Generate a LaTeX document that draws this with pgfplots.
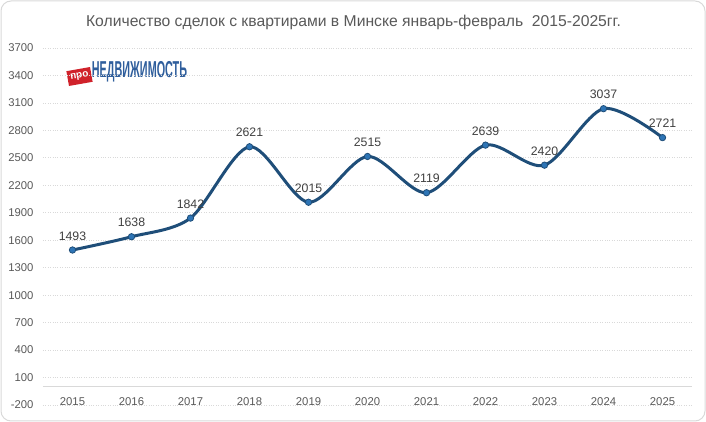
\documentclass[border=0pt]{standalone}
\usepackage{pgfplots}
\pgfplotsset{compat=1.18}
\usepackage{fontspec}
\setmainfont{Liberation Sans}
\definecolor{lineblue}{HTML}{1F4E79}
\definecolor{markblue}{HTML}{2E75B6}
\definecolor{gridgray}{HTML}{D9D9D9}
\definecolor{txtgray}{HTML}{595959}
\definecolor{lblgray}{HTML}{404040}
\definecolor{logoblue}{HTML}{2F5E9C}
\definecolor{logored}{HTML}{D0222B}
\pgfplotstableread{
year val lbl
2015 1493 1493
2016 1638 1638
2017 1842 1842
2018 2621 2621
2019 2015 2015
2020 2515 2515
2021 2119 2119
2022 2639 2639
2023 2420 2420
2024 3037 3037
2025 2721 2721
}\deals
\begin{document}
\begin{tikzpicture}[x=1pt,y=1pt]
\path[use as bounding box] (0,0) rectangle (706,422);
\draw[gridgray, line width=1pt, rounded corners=10pt] (1,1) rectangle (705,421);
\node[font=\fontsize{15.7}{18}\selectfont, text=txtgray] at (353.5,400) {Количество сделок с квартирами в Минске январь-февраль\ \ 2015-2025гг.};
% logo
\node[fill=logored, text=white, rotate=10, font=\bfseries\fontsize{10}{10}\selectfont, inner sep=1pt, minimum width=24pt, minimum height=15pt] at (79.5,345.5) {про};
\node[text=logoblue, font=\bfseries\fontsize{23}{23}\selectfont, xscale=0.47, inner sep=0pt] at (139.5,350) {НЕДВИЖИМОСТЬ};
\begin{axis}[
  at={(43pt,17pt)}, anchor=south west,
  scale only axis, width=649pt, height=357pt,
  xmin=2014.5, xmax=2025.5,
  ymin=-200, ymax=3700,
  ytick={-200,100,...,3700},
  yticklabels={-200,100,400,700,1000,1300,1600,1900,2200,2500,2800,3100,3400,3700},
  xtick={2015,2016,2017,2018,2019,2020,2021,2022,2023,2024,2025},
  xticklabels={2015,2016,2017,2018,2019,2020,2021,2022,2023,2024,2025},
  axis line style={draw=none},
  major tick length=0pt,
  ymajorgrids,
  grid style={gridgray, dotted, line width=0.8pt},
  tick label style={font=\fontsize{11.3}{13}\selectfont, text=txtgray},
  xticklabel style={anchor=center, yshift=3pt},
  yticklabel style={anchor=east, xshift=-6pt},
  extra y ticks={0},
  extra y tick labels={},
  extra y tick style={grid=major, grid style={solid, gridgray, line width=1pt}},
  clip=false,
]
\addplot[lineblue, line width=3pt, smooth, tension=0.5, mark=*, mark size=3.2pt,
  mark options={fill=markblue, draw=lineblue, line width=0.8pt},
  point meta=explicit symbolic,
  nodes near coords,
  every node near coord/.append style={font=\fontsize{12.3}{14}\selectfont, text=lblgray, anchor=south, yshift=6pt}] table[x=year,y=val,meta=lbl] {\deals};
\end{axis}
\end{tikzpicture}
\end{document}
